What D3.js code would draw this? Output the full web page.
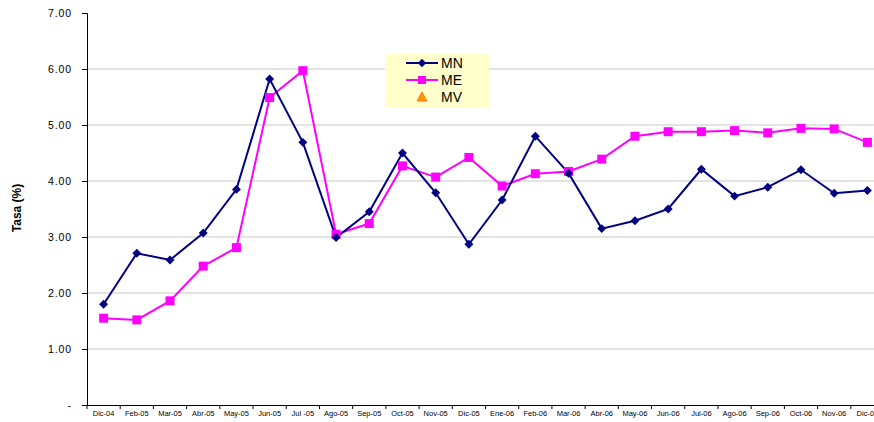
<!DOCTYPE html>
<html><head><meta charset="utf-8">
<script src="https://cdn.jsdelivr.net/npm/d3@7"></script>
<style>body{margin:0;background:#fff}svg{display:block;font-family:Arial,"Liberation Sans",sans-serif}</style>
</head><body><svg id="c" width="874" height="422"></svg>
<script>
const categories = ["Dic-04","Feb-05","Mar-05","Abr-05","May-05","Jun-05","Jul -05","Ago-05","Sep-05","Oct-05","Nov-05","Dic-05","Ene-06","Feb-06","Mar-06","Abr-06","May-06","Jun-06","Jul-06","Ago-06","Sep-06","Oct-06","Nov-06","Dic-06"];
const mnValues = [1.80,2.71,2.59,3.07,3.85,5.82,4.69,2.99,3.45,4.50,3.79,2.87,3.66,4.80,4.14,3.15,3.29,3.50,4.21,3.73,3.89,4.20,3.78,3.83];
const meValues = [1.55,1.52,1.86,2.48,2.81,5.49,5.97,3.05,3.24,4.27,4.07,4.42,3.91,4.13,4.17,4.39,4.80,4.88,4.88,4.90,4.86,4.94,4.93,4.69];
const mvValues = [];
const yTicks = [0,1,2,3,4,5,6,7];
const seriesNames = ["MN","ME","MV"];

(function(){
const svg = d3.select("#c");
const mLeft = 87, mRight = 884, mTop = 13, mBottom = 405;
const x = d3.scaleBand().domain(categories).range([mLeft, mRight]);
const y = d3.scaleLinear().domain([0,7]).range([mBottom, mTop]);

// gridlines
svg.append("g").selectAll("line").data(yTicks.filter(t => t > 0 && t < 7)).join("line")
  .attr("x1", mLeft).attr("x2", mRight).attr("y1", d => y(d)).attr("y2", d => y(d))
  .attr("stroke", "#c8c8c8").attr("stroke-width", 1);

// y axis
const yAxis = d3.axisLeft(y).tickValues(yTicks).tickSize(5).tickPadding(10)
  .tickFormat(d => d === 0 ? "-" : d3.format(".2f")(d));
const gy = svg.append("g").attr("transform", `translate(${mLeft},0)`).call(yAxis);
gy.select(".domain").attr("stroke", "#000");
gy.selectAll(".tick line").attr("stroke", "#000");
gy.selectAll(".tick text").attr("font-size", 10.5).attr("letter-spacing", 0.9).attr("fill", "#000");

// x axis
const xAxis = d3.axisBottom(x).tickSize(0).tickPadding(6);
const gx = svg.append("g").attr("transform", `translate(0,${mBottom})`).call(xAxis);
gx.select(".domain").attr("stroke", "#000");
gx.selectAll(".tick text").attr("font-size", 7.5).attr("fill", "#000");
svg.append("g").selectAll("line").data(d3.range(categories.length + 1)).join("line")
  .attr("x1", i => mLeft + i * x.step()).attr("x2", i => mLeft + i * x.step())
  .attr("y1", mBottom).attr("y2", mBottom + 4).attr("stroke", "#000");

// y title
svg.append("text").attr("transform", "translate(21,208) rotate(-90)")
  .attr("text-anchor", "middle").attr("font-size", 12).attr("font-weight", "bold").text("Tasa (%)");

const cx = (d,i) => x(categories[i]) + x.bandwidth()/2;
const line = d3.line().x(cx).y(d => y(d));

svg.append("path").datum(meValues).attr("d", line).attr("fill", "none").attr("stroke", "#FF00FF").attr("stroke-width", 2);
svg.append("path").datum(mnValues).attr("d", line).attr("fill", "none").attr("stroke", "#000080").attr("stroke-width", 2);

svg.append("g").selectAll("rect").data(meValues).join("rect")
  .attr("x", (d,i) => cx(d,i) - 4.5).attr("y", d => y(d) - 4.5).attr("width", 9).attr("height", 9)
  .attr("fill", "#FF00FF");
svg.append("g").selectAll("path").data(mnValues).join("path")
  .attr("d", d3.symbol().type(d3.symbolSquare).size(40))
  .attr("transform", (d,i) => `translate(${cx(d,i)},${y(d)}) rotate(45)`)
  .attr("fill", "#000080");

// legend
const lg = svg.append("g");
lg.append("rect").attr("x", 385).attr("y", 54).attr("width", 104).attr("height", 54).attr("fill", "#FFFFCC");
const ly = [63, 80, 97];
lg.append("line").attr("x1", 406).attr("x2", 438).attr("y1", ly[0]).attr("y2", ly[0]).attr("stroke", "#000080").attr("stroke-width", 2);
lg.append("path").attr("d", d3.symbol().type(d3.symbolSquare).size(36)).attr("transform", `translate(422,${ly[0]}) rotate(45)`).attr("fill", "#000080");
lg.append("line").attr("x1", 406).attr("x2", 438).attr("y1", ly[1]).attr("y2", ly[1]).attr("stroke", "#FF00FF").attr("stroke-width", 2);
lg.append("rect").attr("x", 418).attr("y", ly[1] - 4).attr("width", 8).attr("height", 8).attr("fill", "#FF00FF");
lg.append("path").attr("d", "M0,-5L5,4L-5,4Z").attr("transform", `translate(422,${ly[2]})`).attr("fill", "#FF9900").attr("stroke", "#FF6600").attr("stroke-width", 0.8);
lg.selectAll("text").data(seriesNames).join("text")
  .attr("x", 441).attr("y", (d,i) => ly[i] + 5).attr("font-size", 14).attr("fill", "#000").text(d => d);
})();
</script></body></html>
